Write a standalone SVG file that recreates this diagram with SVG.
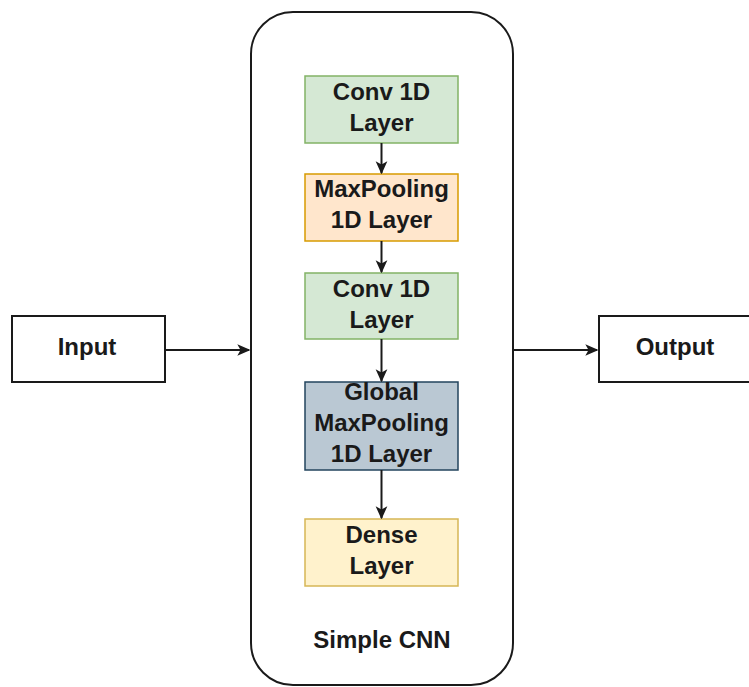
<svg xmlns="http://www.w3.org/2000/svg" width="749" height="687" viewBox="0 0 749 687">
<style>
text{font-family:"Liberation Sans",Arial,sans-serif;font-weight:bold;font-size:24px;fill:#1a1a1a;text-anchor:middle}
.c{fill:none;stroke:#1a1a1a;stroke-width:2}
</style>
<defs>
<marker id="ah" viewBox="0 0 10 10" refX="9" refY="5" markerWidth="13" markerHeight="13" orient="auto" markerUnits="userSpaceOnUse">
<path d="M0,0.5 L10,5 L0,9.5 L2.5,5 Z" fill="#1a1a1a"/>
</marker>
</defs>
<rect width="749" height="687" fill="#fff"/>
<g id="cnn">
<rect x="251" y="12" width="262" height="673" rx="42" ry="42" fill="#fff" stroke="#1a1a1a" stroke-width="2"/>
<text x="382" y="648">Simple CNN</text>
</g>
<g id="input">
<rect x="12" y="316" width="153" height="66" fill="#fff" stroke="#1a1a1a" stroke-width="2"/>
<text x="87" y="355">Input</text>
</g>
<g id="output">
<rect x="599" y="316" width="153" height="66" fill="#fff" stroke="#1a1a1a" stroke-width="2"/>
<text x="675" y="355">Output</text>
</g>
<g id="conv1">
<rect x="305" y="76" width="153" height="67" fill="#d5e8d4" stroke="#82b366" stroke-width="1.5"/>
<text x="381.5" y="100">Conv 1D</text>
<text x="381.5" y="131">Layer</text>
</g>
<g id="maxpool">
<rect x="305" y="174" width="153" height="67" fill="#ffe6cc" stroke="#d79b00" stroke-width="1.5"/>
<text x="381.5" y="197">MaxPooling</text>
<text x="381.5" y="228">1D Layer</text>
</g>
<g id="conv2">
<rect x="305" y="273" width="153" height="66" fill="#d5e8d4" stroke="#82b366" stroke-width="1.5"/>
<text x="381.5" y="297">Conv 1D</text>
<text x="381.5" y="328">Layer</text>
</g>
<g id="global">
<rect x="305" y="382" width="153" height="88" fill="#bac8d3" stroke="#23445d" stroke-width="1.5"/>
<text x="381.5" y="400">Global</text>
<text x="381.5" y="431">MaxPooling</text>
<text x="381.5" y="462">1D Layer</text>
</g>
<g id="dense">
<rect x="305" y="519" width="153" height="67" fill="#fff2cc" stroke="#d6b656" stroke-width="1.5"/>
<text x="381.5" y="543">Dense</text>
<text x="381.5" y="574">Layer</text>
</g>
<g id="connectors">
<path class="c" d="M381.5,143 V173" marker-end="url(#ah)"/>
<path class="c" d="M381.5,241 V272" marker-end="url(#ah)"/>
<path class="c" d="M381.5,339 V381" marker-end="url(#ah)"/>
<path class="c" d="M381.5,470 V518" marker-end="url(#ah)"/>
<path class="c" d="M165,350 H249" marker-end="url(#ah)"/>
<path class="c" d="M513,350 H597" marker-end="url(#ah)"/>
</g>
</svg>
